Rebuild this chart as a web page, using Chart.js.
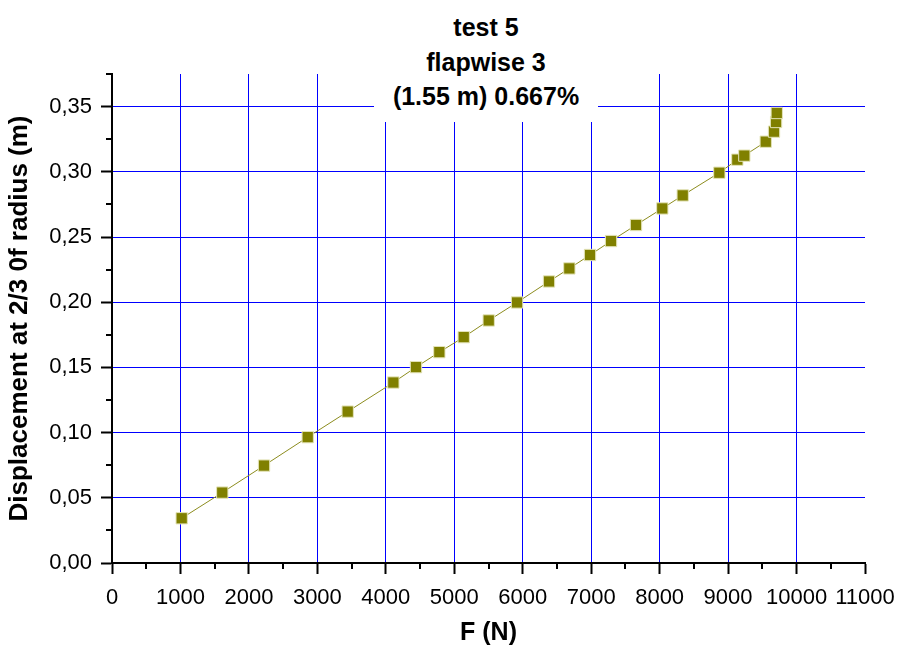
<!DOCTYPE html>
<html>
<head>
<meta charset="utf-8">
<script src="https://cdn.jsdelivr.net/npm/chart.js@4"></script>
<style>
  body { margin: 0; background: #fff; }
  #wrap { position: relative; width: 897px; height: 649px; }
  #title {
    position: absolute; left: 374px; top: 0; width: 224px; height: 122px;
    background: #fff; text-align: center;
    font: bold 25px "Liberation Sans", Arial, sans-serif;
    line-height: 34.5px; padding-top: 10px; box-sizing: border-box; color: #000;
  }
</style>
</head>
<body>
<div id="wrap">
  <canvas id="chart" width="897" height="649"></canvas>
  <div id="title">test 5<br>flapwise 3<br>(1.55 m) 0.667%</div>
</div>
<script>
// force (N) and displacement (m)
var forceN = [1018, 1611, 2221, 2859, 3443, 4110, 4441, 4782, 5138, 5503, 5917, 6384, 6681, 6983,
  7290, 7655, 8039, 8337, 8872, 9135, 9237, 9550, 9671, 9701, 9711];
var displacement = [0.0343, 0.0540, 0.0747, 0.0965, 0.1161, 0.1384, 0.1502, 0.1617, 0.1732, 0.1860,
  0.1998, 0.2159, 0.2259, 0.2362, 0.2469, 0.2592, 0.2719, 0.2819, 0.2993, 0.3093, 0.3124, 0.3231,
  0.3308, 0.3382, 0.3451];

var xMin = 0, xMax = 11000, xMajor = 1000, xMinor = 500;
var yMin = 0, yMax = 0.375, yMajor = 0.05, yMinor = 0.025;

var FONT = '"Liberation Sans", Arial, sans-serif';
var GRID = "#0000ff";

function isMajorX(v) { return Math.round(v) % xMajor === 0; }
function isMajorY(v) { return Math.round(v * 1000) % Math.round(yMajor * 1000) === 0; }

// small ticks between the labelled ones
var minorTicks = {
  id: "minorTicks",
  afterDraw(chart) {
    const ctx = chart.ctx;
    const xs = chart.scales.x, ys = chart.scales.y;
    ctx.save();
    ctx.strokeStyle = "#000";
    ctx.lineWidth = 2;
    xs.ticks.forEach((t) => {
      if (isMajorX(t.value)) return;
      const px = Math.round(xs.getPixelForValue(t.value));
      ctx.beginPath();
      ctx.moveTo(px, xs.top);
      ctx.lineTo(px, xs.top + 6);
      ctx.stroke();
    });
    ys.ticks.forEach((t) => {
      if (isMajorY(t.value)) return;
      const py = Math.round(ys.getPixelForValue(t.value));
      ctx.beginPath();
      ctx.moveTo(ys.right, py);
      ctx.lineTo(ys.right - 6, py);
      ctx.stroke();
    });
    ctx.restore();
  },
};

var points = forceN.map((f, i) => ({ x: f, y: displacement[i] }));

new Chart(document.getElementById("chart"), {
  type: "line",
  data: {
    datasets: [
      {
        data: points,
        borderColor: "#8c8c1e",
        borderWidth: 1,
        backgroundColor: "#808000",
        pointStyle: "rect",
        pointRadius: 8,
        pointBorderColor: "#e4e4b8",
        pointBorderWidth: 1,
        pointBackgroundColor: "#808000",
        tension: 0,
      },
    ],
  },
  options: {
    responsive: false,
    animation: false,
    layout: { padding: { top: 74, right: 32, left: 0, bottom: 0 } },
    plugins: { legend: { display: false }, title: { display: false }, tooltip: { enabled: false } },
    scales: {
      x: {
        type: "linear",
        min: xMin,
        max: xMax,
        afterFit: (s) => { s.height = 86; s.paddingLeft = 0; s.paddingRight = 0; },
        afterBuildTicks: (s) => {
          const t = [];
          for (let v = xMin; v <= xMax; v += xMinor) t.push({ value: v });
          s.ticks = t;
        },
        border: { display: true, color: "#000", width: 2 },
        grid: {
          color: (c) => (c.tick && isMajorX(c.tick.value) && c.tick.value > xMin && c.tick.value < xMax ? GRID : "rgba(0,0,0,0)"),
          tickColor: (c) => (c.tick && isMajorX(c.tick.value) ? "#000" : "rgba(0,0,0,0)"),
          tickLength: 11,
          tickWidth: 2,
          lineWidth: 1,
        },
        ticks: {
          autoSkip: false,
          maxRotation: 0,
          padding: 11,
          color: "#000",
          font: { family: FONT, size: 22 },
          callback: (v) => (isMajorX(v) ? String(v) : ""),
        },
        title: {
          display: true,
          text: "F (N)",
          color: "#000",
          font: { family: FONT, size: 25, weight: "bold" },
          padding: { top: 0, bottom: 1 },
        },
      },
      y: {
        type: "linear",
        min: yMin,
        max: yMax,
        afterFit: (s) => { s.width = 112; s.paddingTop = 0; s.paddingBottom = 0; },
        afterBuildTicks: (s) => {
          const t = [];
          for (let i = 0; i <= Math.round((yMax - yMin) / yMinor); i++) t.push({ value: +(yMin + i * yMinor).toFixed(3) });
          s.ticks = t;
        },
        border: { display: true, color: "#000", width: 2 },
        grid: {
          color: (c) => (c.tick && isMajorY(c.tick.value) && c.tick.value > yMin && c.tick.value < yMax ? GRID : "rgba(0,0,0,0)"),
          tickColor: (c) => (c.tick && isMajorY(c.tick.value) ? "#000" : "rgba(0,0,0,0)"),
          tickLength: 11,
          tickWidth: 2,
          lineWidth: 1,
        },
        ticks: {
          autoSkip: false,
          padding: 9,
          color: "#000",
          font: { family: FONT, size: 22 },
          callback: (v) => (isMajorY(v) ? v.toFixed(2).replace(".", ",") : ""),
        },
        title: {
          display: true,
          text: "Displacement at 2/3 0f radius (m)",
          color: "#000",
          font: { family: FONT, size: 26, weight: "bold" },
          padding: { top: 4, bottom: 0 },
        },
      },
    },
  },
  plugins: [minorTicks],
});
</script>
</body>
</html>
